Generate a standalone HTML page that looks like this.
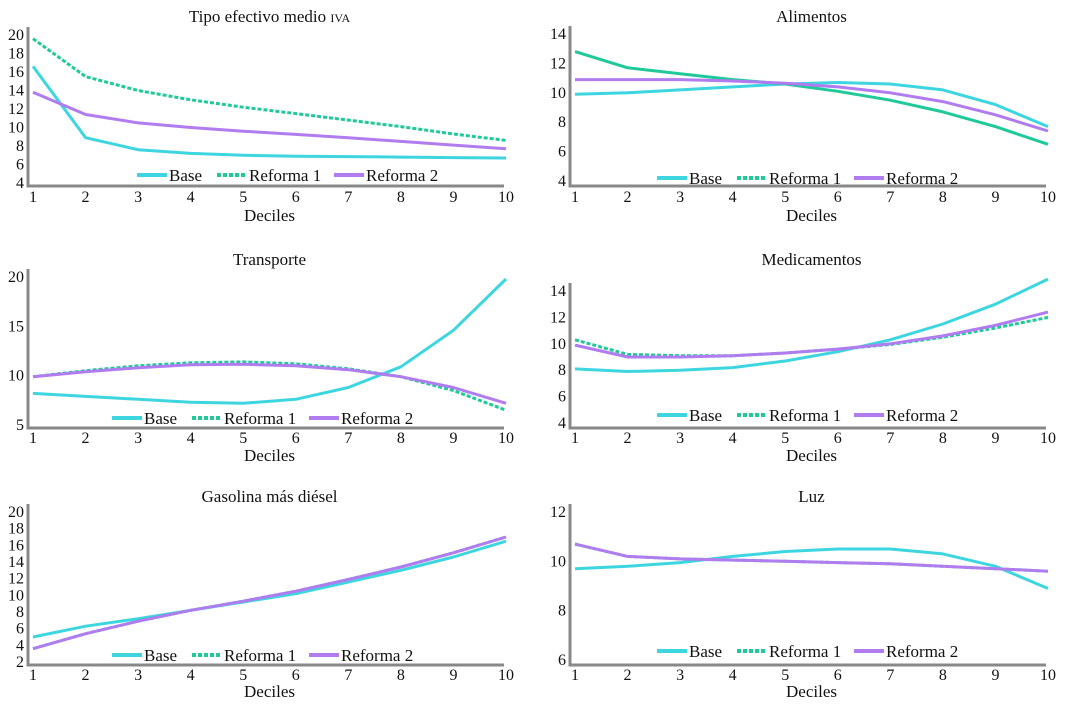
<!DOCTYPE html>
<html><head><meta charset="utf-8">
<style>
body{margin:0;background:#fff;}
svg{display:block;font-family:"Liberation Serif",serif;}
</style></head>
<body>
<svg id="c" width="1072" height="707"></svg>
<script>
const deciles=[1,2,3,4,5,6,7,8,9,10];
const seriesNames=["Base","Reforma 1","Reforma 2"];
const ivaBase=[16.6,8.9,7.6,7.2,7.0,6.9,6.85,6.8,6.75,6.7];
const ivaR1=[19.6,15.5,14.0,13.0,12.2,11.5,10.8,10.1,9.3,8.6];
const ivaR2=[13.8,11.4,10.5,10.0,9.6,9.25,8.9,8.5,8.1,7.7];
const aliBase=[9.9,10.0,10.2,10.4,10.6,10.7,10.6,10.2,9.2,7.7];
const aliR1=[12.8,11.7,11.3,10.9,10.6,10.1,9.5,8.7,7.7,6.5];
const aliR2=[10.9,10.9,10.9,10.8,10.65,10.4,10.0,9.4,8.5,7.4];
const traBase=[8.2,7.9,7.6,7.3,7.2,7.6,8.8,10.9,14.6,19.8];
const traR1=[9.9,10.5,11.0,11.3,11.4,11.2,10.7,9.9,8.5,6.5];
const traR2=[9.9,10.4,10.8,11.1,11.15,11.0,10.6,9.9,8.8,7.2];
const medBase=[8.1,7.9,8.0,8.2,8.7,9.4,10.3,11.5,13.0,14.9];
const medR1=[10.3,9.2,9.1,9.1,9.3,9.6,9.95,10.5,11.2,12.0];
const medR2=[9.9,9.0,9.0,9.1,9.3,9.6,10.0,10.6,11.4,12.4];
const gasBase=[5.0,6.3,7.2,8.2,9.2,10.2,11.6,13.0,14.6,16.5];
const gasR1=[3.6,5.4,6.9,8.2,9.3,10.5,11.9,13.4,15.1,17.0];
const gasR2=[3.6,5.4,6.9,8.2,9.3,10.5,11.9,13.4,15.1,17.0];
const luzBase=[9.7,9.8,9.95,10.2,10.4,10.5,10.5,10.3,9.8,8.9];
const luzR1=[10.7,10.2,10.1,10.05,10.0,9.95,9.9,9.8,9.7,9.6];
const luzR2=[10.7,10.2,10.1,10.05,10.0,9.95,9.9,9.8,9.7,9.6];
const ivaTicks=[4,6,8,10,12,14,16,18,20];
const aliTicks=[4,6,8,10,12,14];
const traTicks=[5,10,15,20];
const medTicks=[4,6,8,10,12,14];
const gasTicks=[2,4,6,8,10,12,14,16,18,20];
const luzTicks=[6,8,10,12];

const colors=["#3dd6e0","#1fc99a","#b07cf0"];
const panels=[
 {name:"iva",title:"Tipo efectivo medio <tspan style='font-variant:small-caps'>iva</tspan>",s:[ivaBase,ivaR1,ivaR2],ticks:ivaTicks,x0:33,x1:506,ax:28,yb:186,ymin:4,ymax:20,py0:183,py1:35,ty:17,tky:197,dy:215,ly:175,lx:137,dash:true},
 {name:"alimentos",title:"Alimentos",s:[aliBase,aliR1,aliR2],ticks:aliTicks,x0:575,x1:1048,ax:570,yb:186,ymin:4,ymax:14,py0:181,py1:34,ty:17,tky:197,dy:215,ly:178,lx:657,dash:false},
 {name:"transporte",title:"Transporte",s:[traBase,traR1,traR2],ticks:traTicks,x0:33,x1:506,ax:28,yb:428,ymin:5,ymax:20,py0:425,py1:277,ty:260,tky:438,dy:455,ly:418,lx:112,dash:true},
 {name:"medicamentos",title:"Medicamentos",s:[medBase,medR1,medR2],ticks:medTicks,x0:575,x1:1048,ax:570,yb:428,ymin:4,ymax:14,py0:423,py1:291,ty:260,tky:438,dy:455,ly:415,lx:657,dash:true},
 {name:"gasolina",title:"Gasolina más diésel",s:[gasBase,gasR1,gasR2],ticks:gasTicks,x0:33,x1:506,ax:28,yb:665,ymin:2,ymax:20,py0:662,py1:512,ty:497,tky:675,dy:691,ly:655,lx:112,dash:true},
 {name:"luz",title:"Luz",s:[luzBase,luzR1,luzR2],ticks:luzTicks,x0:575,x1:1048,ax:570,yb:665,ymin:6,ymax:12,py0:660,py1:512,ty:497,tky:675,dy:691,ly:651,lx:657,dash:true}
];
const NS="http://www.w3.org/2000/svg";
const svg=document.getElementById("c");
function mk(tag,attrs,parent){const e=document.createElementNS(NS,tag);for(const k in attrs)e.setAttribute(k,attrs[k]);parent.appendChild(e);return e;}
panels.forEach(p=>{
 const g=mk("g",{},svg);
 
 
 const xs=d=>p.x0+(d-1)*(p.x1-p.x0)/9;
 const ys=v=>p.py0+(v-p.ymin)*(p.py1-p.py0)/(p.ymax-p.ymin);
 const t=mk("text",{x:(p.x0+p.x1)/2,y:p.ty+5,"text-anchor":"middle","font-size":"17",fill:"#111"},g);
 t.innerHTML=p.title;
 
 
 const axis=mk("path",{d:`M${p.ax} ${p.py1-8} V${p.yb} H${p.x1-2}`,stroke:"#888","stroke-width":3,fill:"none"},g);
 
 
 p.ticks.forEach(v=>{
  const tl=mk("text",{x:p.ax-4,y:ys(v)+5,"text-anchor":"end","font-size":"16",fill:"#111"},g);
  tl.textContent=v;
  
  
 });
 deciles.forEach(d=>{
  const tl=mk("text",{x:xs(d),y:p.tky+5,"text-anchor":"middle","font-size":"16",fill:"#111"},g);
  tl.textContent=d;
  
  
 });
 const xl=mk("text",{x:(p.x0+p.x1)/2,y:p.dy+6,"text-anchor":"middle","font-size":"17",fill:"#111"},g);
 xl.textContent="Deciles";
 
 
 [0,1,2].forEach(i=>{
  const d=p.s[i].map((v,j)=>(j?"L":"M")+xs(deciles[j]).toFixed(1)+" "+ys(v).toFixed(1)).join(" ");
  const at={d:d,stroke:colors[i],"stroke-width":3,fill:"none","stroke-linejoin":"round"};
  if(i===1&&p.dash){at["stroke-dasharray"]="4 2";}
  const l=mk("path",at,g);
  
  
 });
 const lg=mk("g",{},g);
 
 
 const offs=[0,80,197];
 seriesNames.forEach((n,i)=>{
  const x=p.lx+offs[i];
  const at={x1:x,x2:x+30,y1:p.ly,y2:p.ly,stroke:colors[i],"stroke-width":4};
  if(i===1)at["stroke-dasharray"]="4 2";
  mk("line",at,lg);
  const tx=mk("text",{x:x+32,y:p.ly+6,"font-size":"17",fill:"#111"},lg);
  tx.textContent=n;
  
  
 });
});
</script>
</body></html>
